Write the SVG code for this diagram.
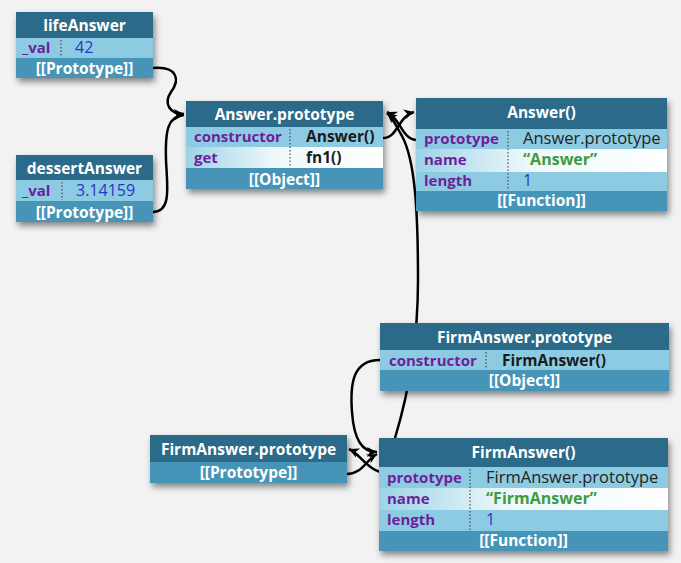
<svg xmlns="http://www.w3.org/2000/svg" width="681" height="563" viewBox="0 0 681 563">
<defs>
<filter id="sh" x="-10%" y="-10%" width="125%" height="150%"><feDropShadow dx="2" dy="4" stdDeviation="3" flood-color="#000" flood-opacity="0.45"/></filter>
<linearGradient id="wg" x1="0" x2="1" y1="0" y2="0"><stop offset="0" stop-color="#9dd3e7"/><stop offset="0.45" stop-color="#eef8fb"/><stop offset="1" stop-color="#ffffff"/></linearGradient>
<marker id="ar" viewBox="0 0 12 12" refX="11" refY="6" markerWidth="12" markerHeight="12" markerUnits="userSpaceOnUse" orient="auto"><path d="M1,1 L11,6 L1,11 L4,6 z" fill="#000"/></marker>
<style>
.hd{fill:#2b6a88}
.lt{fill:#8dcbe2}
.md{fill:#4695b8}
.wg{fill:url(#wg)}
.bg{fill:#2b6a88;filter:url(#sh)}
.ht{font-family:"Open Sans","DejaVu Sans",sans-serif;font-weight:700;font-size:15.5px;fill:#fff;text-anchor:middle}
.k{font-family:"Open Sans","DejaVu Sans",sans-serif;font-weight:700;font-size:15px;fill:#6e1f9c}
.vb{font-family:"Open Sans","DejaVu Sans",sans-serif;font-weight:700;font-size:15.5px;fill:#1a1a1a}
.vn{font-family:"Open Sans","DejaVu Sans",sans-serif;font-size:16.5px;fill:#222}
.vs{font-family:"Open Sans","DejaVu Sans",sans-serif;font-weight:700;font-size:16px;fill:#3f9a3f}
.num{font-family:"Open Sans","DejaVu Sans",sans-serif;font-size:16px;fill:#2a33cc}
.dv{stroke:#333;stroke-width:1;stroke-dasharray:1.5 2}
.c{fill:none;stroke:#000;stroke-width:2.5;marker-end:url(#ar)}
</style>
</defs>
<rect width="681" height="563" fill="#f2f2f2"/>
<g id="connectors">
<path class="c" d="M153,68 C178,66 180,80 171,92 C163,104 170,114 184,114"/>
<path class="c" d="M153,212 C172,212 167,185 166,160 C165,130 168,116 184,115"/>
<path class="c" d="M383,138 C398,138 398,116 414,112"/>
<path class="c" d="M416,140 C402,139 400,118 387,112"/>
<path class="c" d="M395,438 C405,405 418,350 418,280 C418,210 415,160 402,136 C396,126 393,118 387,113"/>
<path class="c" d="M380,360 C352,360 350,385 352,412 C354,440 362,452 377,452"/>
<path class="c" d="M347,474 C362,474 366,460 377,454"/>
<path class="c" d="M380,472 C366,468 360,454 349,449"/>
</g>
<g id="lifeAnswer">
<rect class="bg" x="16" y="12" width="137" height="66"/>
<rect class="hd" x="16" y="12" width="137" height="26"/>
<rect class="lt" x="16" y="38" width="137" height="20"/>
<rect class="md" x="16" y="58" width="137" height="20"/>
<text class="ht" x="84.5" y="31">lifeAnswer</text>
<text class="k" x="22" y="53">_val</text>
<line class="dv" x1="61" y1="40" x2="61" y2="57"/>
<text class="num" x="75" y="53">42</text>
<text class="ht" x="84.5" y="74">[[Prototype]]</text>
</g>
<g id="dessertAnswer">
<rect class="bg" x="16" y="155" width="137" height="67"/>
<rect class="hd" x="16" y="155" width="137" height="25"/>
<rect class="lt" x="16" y="180" width="137" height="21"/>
<rect class="md" x="16" y="201" width="137" height="21"/>
<text class="ht" x="84.5" y="174">dessertAnswer</text>
<text class="k" x="22" y="196">_val</text>
<line class="dv" x1="62" y1="182" x2="62" y2="200"/>
<text class="num" x="76" y="196">3.14159</text>
<text class="ht" x="84.5" y="218">[[Prototype]]</text>
</g>
<g id="answerPrototype">
<rect class="bg" x="186" y="101" width="197" height="88"/>
<rect class="hd" x="186" y="101" width="197" height="26"/>
<rect class="lt" x="186" y="127" width="197" height="20"/>
<rect class="wg" x="186" y="147" width="197" height="21"/>
<rect class="md" x="186" y="168" width="197" height="21"/>
<text class="ht" x="284.5" y="120">Answer.prototype</text>
<text class="k" x="194" y="142">constructor</text>
<text class="k" x="194" y="163">get</text>
<line class="dv" x1="290" y1="129" x2="290" y2="167"/>
<text class="vb" x="306" y="142">Answer()</text>
<text class="vb" x="306" y="163">fn1()</text>
<text class="ht" x="284.5" y="185">[[Object]]</text>
</g>
<g id="answerFn">
<rect class="bg" x="416" y="98" width="251" height="113"/>
<rect class="hd" x="416" y="98" width="251" height="31"/>
<rect class="lt" x="416" y="129" width="251" height="20"/>
<rect class="wg" x="416" y="149" width="251" height="23"/>
<rect class="lt" x="416" y="172" width="251" height="19"/>
<rect class="md" x="416" y="191" width="251" height="20"/>
<text class="ht" x="541.5" y="118">Answer()</text>
<text class="k" x="424" y="144">prototype</text>
<text class="k" x="424" y="165">name</text>
<text class="k" x="424" y="186">length</text>
<line class="dv" x1="508" y1="131" x2="508" y2="190"/>
<text class="vn" x="523" y="144">Answer.prototype</text>
<text class="vs" x="523" y="165">“Answer”</text>
<text class="num" x="523" y="186">1</text>
<text class="ht" x="541.5" y="206">[[Function]]</text>
</g>
<g id="firmAnswerPrototype">
<rect class="bg" x="380" y="323" width="289" height="68"/>
<rect class="hd" x="380" y="323" width="289" height="27"/>
<rect class="lt" x="380" y="350" width="289" height="20"/>
<rect class="md" x="380" y="370" width="289" height="21"/>
<text class="ht" x="524.5" y="343">FirmAnswer.prototype</text>
<text class="k" x="389" y="366">constructor</text>
<line class="dv" x1="486" y1="352" x2="486" y2="369"/>
<text class="vb" x="502" y="366">FirmAnswer()</text>
<text class="ht" x="524.5" y="386">[[Object]]</text>
</g>
<g id="firmAnswerPrototypeRef">
<rect class="bg" x="150" y="435" width="197" height="48"/>
<rect class="hd" x="150" y="435" width="197" height="27"/>
<rect class="md" x="150" y="462" width="197" height="21"/>
<text class="ht" x="248.5" y="455">FirmAnswer.prototype</text>
<text class="ht" x="248.5" y="478">[[Prototype]]</text>
</g>
<g id="firmAnswerFn">
<rect class="bg" x="379" y="438" width="289" height="113"/>
<rect class="hd" x="379" y="438" width="289" height="29"/>
<rect class="lt" x="379" y="467" width="289" height="21"/>
<rect class="wg" x="379" y="488" width="289" height="22"/>
<rect class="lt" x="379" y="510" width="289" height="21"/>
<rect class="md" x="379" y="531" width="289" height="20"/>
<text class="ht" x="523.5" y="458">FirmAnswer()</text>
<text class="k" x="387" y="483">prototype</text>
<text class="k" x="387" y="504">name</text>
<text class="k" x="387" y="525">length</text>
<line class="dv" x1="470" y1="469" x2="470" y2="530"/>
<text class="vn" x="486" y="483">FirmAnswer.prototype</text>
<text class="vs" x="486" y="504">“FirmAnswer”</text>
<text class="num" x="486" y="525">1</text>
<text class="ht" x="523.5" y="546">[[Function]]</text>
</g>
</svg>
